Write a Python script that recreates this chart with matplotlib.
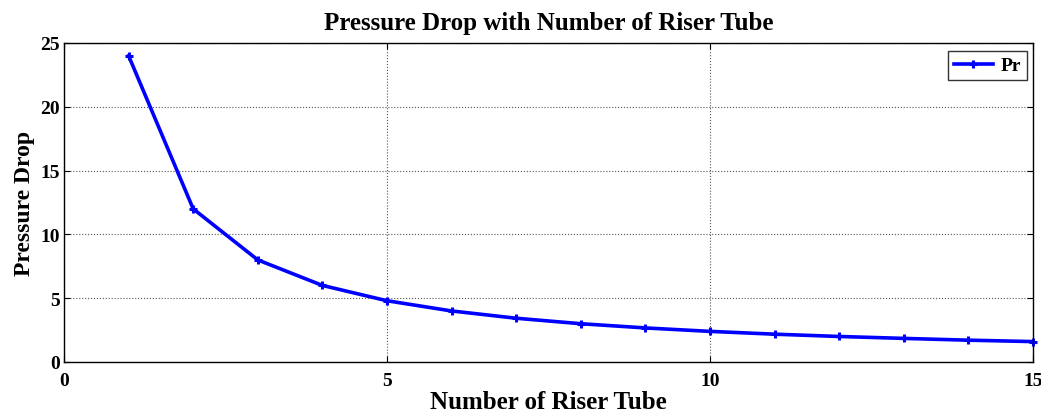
import matplotlib
matplotlib.use("Agg")
import matplotlib.pyplot as plt

n_tubes = [1, 2, 3, 4, 5, 6, 7, 8, 9, 10, 11, 12, 13, 14, 15]
pressure = [24.0, 12.0, 8.0, 6.0, 4.8, 4.0, 3.43, 3.0, 2.67, 2.4, 2.18, 2.0, 1.85, 1.71, 1.6]
xticks = [0, 5, 10, 15]
yticks = [0, 5, 10, 15, 20, 25]

plt.rcParams['font.family'] = ['Liberation Serif', 'DejaVu Serif']
plt.rcParams['font.weight'] = 'bold'

fig = plt.figure(figsize=(10.41, 4.14), dpi=100)
ax = fig.add_axes([64/1041, 1-363/414, (1033-64)/1041, (363-44)/414])
ax.plot(n_tubes, pressure, color='#0000ff', linewidth=2.6, marker='+', markersize=6,
        markeredgewidth=2.2, label='Pr', clip_on=False)
ax.set_xlim(0, 15)
ax.set_ylim(0, 25)
ax.set_xticks(xticks)
ax.set_yticks(yticks)
ax.grid(True, color='#555555', linestyle=':', linewidth=0.8)
ax.tick_params(direction='in', labelsize=14, length=4, width=0.8, top=True, right=True, pad=3)
ax.tick_params(axis='x', pad=7)
for lab in ax.get_xticklabels() + ax.get_yticklabels():
    lab.set_fontweight('bold')
for s in ax.spines.values():
    s.set_linewidth(1.0)
ax.set_title('Pressure Drop with Number of Riser Tube', fontsize=18, fontweight='bold', pad=10)
ax.set_xlabel('Number of Riser Tube', fontsize=18, fontweight='bold', labelpad=1)
ax.set_ylabel('Pressure Drop', fontsize=17, fontweight='bold', labelpad=4)
leg = ax.legend(loc='upper right', bbox_to_anchor=(1 - 6/969, 1 - 8/319), borderaxespad=0,
                fontsize=14, frameon=True, fancybox=False,
                edgecolor='black', borderpad=0.3, handlelength=2.0, handletextpad=0.4)
leg.get_frame().set_linewidth(1.0)
for t in leg.get_texts():
    t.set_fontweight('bold')
fig.savefig('out.png', dpi=100)
